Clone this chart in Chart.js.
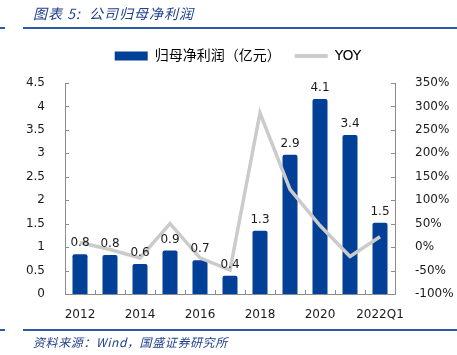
<!DOCTYPE html>
<html><head><meta charset="utf-8">
<script src="https://cdn.jsdelivr.net/npm/chart.js@4.4.1/dist/chart.umd.min.js"></script>
<style>
html,body{margin:0;padding:0;background:#fff;width:457px;height:355px;overflow:hidden;}
#wrap{position:relative;width:457px;height:355px;}
canvas{position:absolute;left:0;top:0;}
.t{position:absolute;font-family:"Noto Sans CJK SC","DejaVu Sans",sans-serif;font-style:italic;color:#1f3f8c;white-space:nowrap;}
.ln{position:absolute;height:2px;background:#2c5aa6;}
</style></head><body>
<div id="wrap">
<canvas id="c" width="457" height="355"></canvas>
<div class="t" style="left:33px;top:3px;font-size:14px;letter-spacing:1px;">图表 5:&nbsp; 公司归母净利润</div>
<div class="ln" style="left:0;top:27px;width:5px;"></div>
<div class="ln" style="left:23px;top:27px;width:434px;"></div>
<div class="ln" style="left:0;top:329px;width:5px;"></div>
<div class="ln" style="left:23px;top:329px;width:434px;"></div>
<div class="t" style="left:33px;top:333px;font-size:12px;letter-spacing:0.6px;">资料来源：Wind，国盛证券研究所</div>
</div>
<script>
const categories = ['2012','2013','2014','2015','2016','2017','2018','2019','2020','2021','2022Q1'];
const profit = [0.85, 0.83, 0.64, 0.93, 0.72, 0.39, 1.35, 2.97, 4.16, 3.39, 1.52];
const profitLabels = ['0.8','0.8','0.6','0.9','0.7','0.4','1.3','2.9','4.1','3.4','1.5'];
const yoy = [10, -5, -23, 50, -23, -49, 286, 123, 46, -20, 22];
const leftTicks = [0, 0.5, 1, 1.5, 2, 2.5, 3, 3.5, 4, 4.5];
const rightTicks = [-100, -50, 0, 50, 100, 150, 200, 250, 300, 350];

const FONT = '"DejaVu Sans", "Noto Sans CJK SC", sans-serif';
const AXIS = '#8c8c8c';

const legendGap = {
  id: 'legendGap',
  beforeLayout(chart) {
    const lg = chart.legend;
    if (lg && !lg._gapPatched) {
      const f = lg.fit.bind(lg);
      lg.fit = function () { f(); this.height += 10; };
      lg._gapPatched = true;
    }
  }
};

const insideTicks = {
  id: 'insideTicks',
  afterDatasetsDraw(chart) {
    const ctx = chart.ctx, a = chart.chartArea;
    const y = chart.scales.y, y1 = chart.scales.y1;
    ctx.save();
    ctx.strokeStyle = AXIS; ctx.lineWidth = 1;
    ctx.beginPath();
    leftTicks.forEach(v => { const p = Math.round(y.getPixelForValue(v)) + 0.5; ctx.moveTo(a.left, p); ctx.lineTo(a.left + 4, p); });
    rightTicks.forEach(v => { const p = Math.round(y1.getPixelForValue(v)) + 0.5; ctx.moveTo(a.right, p); ctx.lineTo(a.right - 4, p); });
    for (let i = 0; i <= categories.length; i++) {
      const p = Math.round(a.left + (a.right - a.left) * i / categories.length) + 0.5;
      ctx.moveTo(p, a.bottom); ctx.lineTo(p, a.bottom - 4);
    }
    ctx.stroke();
    const meta = chart.getDatasetMeta(0);
    ctx.fillStyle = '#1a1a1a';
    ctx.font = '12px ' + FONT;
    ctx.textAlign = 'center'; ctx.textBaseline = 'bottom';
    meta.data.forEach((el, i) => { ctx.fillText(profitLabels[i], el.x, el.y - 5); });
    ctx.restore();
  }
};

new Chart(document.getElementById('c'), {
  data: {
    labels: categories,
    datasets: [
      { type: 'bar', label: '归母净利润（亿元）', data: profit, backgroundColor: '#023f96', yAxisID: 'y', order: 2,
        categoryPercentage: 1, barPercentage: 0.5, borderRadius: 2 },
      { type: 'line', label: 'YOY', data: yoy, borderColor: '#cbcbcb', backgroundColor: '#cbcbcb', borderWidth: 3.5,
        pointRadius: 0, tension: 0, yAxisID: 'y1', order: 1 }
    ]
  },
  options: {
    responsive: false, animation: false, devicePixelRatio: 1,
    layout: { padding: { left: 19, right: 0, top: 35, bottom: 31 } },
    plugins: {
      tooltip: { enabled: false },
      legend: {
        position: 'top',
        labels: {
          font: { family: FONT, size: 14 }, color: '#1a1a1a',
          usePointStyle: true, pointStyleWidth: 33, boxHeight: 9, padding: 14,
          generateLabels(chart) {
            return [
              { text: '归母净利润（亿元）', fillStyle: '#023f96', strokeStyle: '#023f96', lineWidth: 0, pointStyle: 'rect', datasetIndex: 0 },
              { text: 'YOY', fillStyle: '#cbcbcb', strokeStyle: '#cbcbcb', lineWidth: 4, pointStyle: 'line', datasetIndex: 1 }
            ];
          }
        }
      }
    },
    scales: {
      x: {
        grid: { display: false }, border: { display: true, color: AXIS },
        ticks: { autoSkip: false, maxRotation: 0, color: '#1a1a1a', font: { family: FONT, size: 12 }, padding: 6,
          callback: (v, i) => (i % 2 === 0 ? categories[i] : '') },
        afterFit(s) { s.height = 30; }
      },
      y: {
        position: 'left', min: 0, max: 4.5,
        grid: { display: false }, border: { display: true, color: AXIS },
        afterBuildTicks(s) { s.ticks = leftTicks.map(v => ({ value: v })); },
        ticks: { color: '#1a1a1a', font: { family: FONT, size: 12 }, padding: 12, callback: v => String(v) },
        afterFit(s) { s.width = 46; }
      },
      y1: {
        position: 'right', min: -100, max: 350,
        grid: { display: false }, border: { display: true, color: AXIS },
        afterBuildTicks(s) { s.ticks = rightTicks.map(v => ({ value: v })); },
        ticks: { color: '#1a1a1a', font: { family: FONT, size: 12 }, padding: 12, callback: v => v + '%' },
        afterFit(s) { s.width = 62; }
      }
    }
  },
  plugins: [legendGap, insideTicks]
});
</script>
</body></html>
